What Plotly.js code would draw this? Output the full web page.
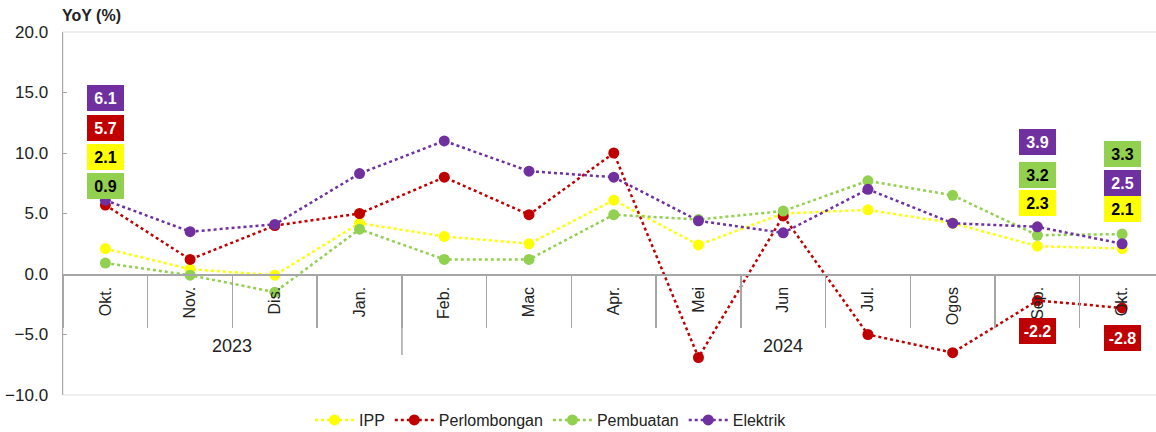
<!DOCTYPE html>
<html>
<head>
<meta charset="utf-8">
<script src="https://cdn.plot.ly/plotly-3.0.1.min.js"></script>
<style>
  body { margin: 0; background: #fff; }
  #plotArea { width: 1156px; height: 432px; }
</style>
</head>
<body>
<div id="plotArea"></div>
<script>
// Data (YoY %)
var months = ["Okt.", "Nov.", "Dis.", "Jan.", "Feb.", "Mac", "Apr.", "Mei", "Jun", "Jul.", "Ogos", "Sep.", "Okt."];
// year grouping as drawn under the axis (the 2023 block runs through Jan.)
var years = ["2023", "2023", "2023", "2023", "2024", "2024", "2024", "2024", "2024", "2024", "2024", "2024", "2024"];

var ipp = [2.1, 0.4, -0.1, 4.2, 3.1, 2.5, 6.1, 2.4, 5.0, 5.3, 4.2, 2.3, 2.1];
var perlombongan = [5.7, 1.2, 4.0, 5.0, 8.0, 4.9, 10.0, -6.9, 4.8, -5.0, -6.5, -2.2, -2.8];
var pembuatan = [0.9, -0.1, -1.5, 3.7, 1.2, 1.2, 4.9, 4.5, 5.2, 7.7, 6.5, 3.2, 3.3];
var elektrik = [6.1, 3.5, 4.1, 8.3, 11.0, 8.5, 8.0, 4.4, 3.4, 7.0, 4.2, 3.9, 2.5];

var seriesNames = ["IPP", "Perlombongan", "Pembuatan", "Elektrik"];
var seriesValues = [ipp, perlombongan, pembuatan, elektrik];
var seriesColors = ["#ffff00", "#c00000", "#92d050", "#7030a0"];
var labelTextColors = ["#000", "#fff", "#000", "#fff"];

// where the value boxes sit (series, month index, y position)
var labelSpots = [
    {s: 3, i: 0, y: 14.55}, {s: 1, i: 0, y: 12.07}, {s: 0, i: 0, y: 9.67}, {s: 2, i: 0, y: 7.31},
    {s: 3, i: 11, y: 10.95}, {s: 2, i: 11, y: 8.22}, {s: 0, i: 11, y: 5.87}, {s: 1, i: 11, y: -4.7},
    {s: 2, i: 12, y: 9.92}, {s: 3, i: 12, y: 7.52}, {s: 0, i: 12, y: 5.37}, {s: 1, i: 12, y: -5.25}
];

var fontFam = "Liberation Sans, Arial, sans-serif";
var grey = "#a6a6a6";
var zeroPos = 1 / 3;   // y = 0 sits a third of the way up (-10..20)

var idx = months.map(function(m, i) { return i; });

var traces = seriesNames.map(function(name, k) {
    return {
        x: idx,
        y: seriesValues[k],
        name: name,
        type: "scatter",
        mode: "lines+markers",
        line: {color: seriesColors[k], width: 2.5, dash: "dot"},
        marker: {color: seriesColors[k], size: 11}
    };
});

var annotations = labelSpots.map(function(p) {
    return {
        x: p.i, y: p.y, xref: "x", yref: "y",
        text: "<b>" + seriesValues[p.s][p.i].toFixed(1) + "</b>",
        showarrow: false,
        bgcolor: seriesColors[p.s],
        bordercolor: seriesColors[p.s],
        width: 33, height: 22,
        font: {family: fontFam, size: 16, color: labelTextColors[p.s]}
    };
});

// year group labels and the divider between groups
var shapes = [{
    type: "rect", xref: "paper", yref: "paper",
    x0: 0, x1: 1.02, y0: 0, y1: 1,
    line: {color: "#dedede", width: 1},
    layer: "below"
}];
var yearList = years.filter(function(y, i) { return years.indexOf(y) === i; });
yearList.forEach(function(yr, g) {
    var first = years.indexOf(yr), last = years.lastIndexOf(yr);
    annotations.push({
        x: (first + last) / 2, y: 0.135, xref: "x", yref: "paper",
        xanchor: "center", yanchor: "middle",
        text: yr, showarrow: false,
        font: {family: fontFam, size: 18, color: "#222"}
    });
    if (g > 0) {
        shapes.push({
            type: "line", xref: "x", yref: "paper",
            x0: first - 0.5, x1: first - 0.5, y0: zeroPos, y1: 0.11,
            line: {color: grey, width: 1.5}
        });
    }
});

var layout = {
    width: 1156,
    height: 432,
    margin: {l: 63, r: 0, t: 32, b: 37, autoexpand: false},
    paper_bgcolor: "#fff",
    plot_bgcolor: "#fff",
    font: {family: fontFam, size: 16, color: "#222"},
    title: {
        text: "<b>YoY (%)</b>",
        xref: "container",
        x: 62 / 1156,
        xanchor: "left",
        y: 1 - 15 / 432,
        yanchor: "middle",
        font: {family: fontFam, size: 16, color: "#222"}
    },
    showlegend: true,
    legend: {
        orientation: "h",
        x: 0.226,
        xanchor: "left",
        y: -0.069,
        yanchor: "middle",
        itemwidth: 39,
        font: {family: fontFam, size: 16, color: "#222"}
    },
    xaxis: {
        range: [-0.5, 12.4],
        anchor: "free",
        position: zeroPos,
        tickmode: "array",
        tickvals: idx,
        ticktext: months,
        ticks: "",
        tickangle: -90,
        ticklabelstandoff: 5,
        minor: {
            tick0: 0.5,
            dtick: 1,
            ticks: "outside",
            ticklen: 52,
            tickwidth: 1.5,
            tickcolor: grey,
            showgrid: false
        },
        showline: true,
        linecolor: grey,
        linewidth: 1.5,
        showgrid: false,
        zeroline: false,
        tickfont: {family: fontFam, size: 16, color: "#222"}
    },
    yaxis: {
        range: [-10, 20],
        dtick: 5,
        tickformat: ".1f",
        showline: true,
        linecolor: grey,
        linewidth: 1.5,
        ticks: "inside",
        ticklen: 4,
        tickcolor: grey,
        showgrid: false,
        zeroline: false,
        ticklabelstandoff: 10,
        tickfont: {family: fontFam, size: 17, color: "#222"}
    },
    shapes: shapes,
    annotations: annotations
};

Plotly.newPlot("plotArea", traces, layout, {displayModeBar: false, staticPlot: true});
</script>
</body>
</html>
